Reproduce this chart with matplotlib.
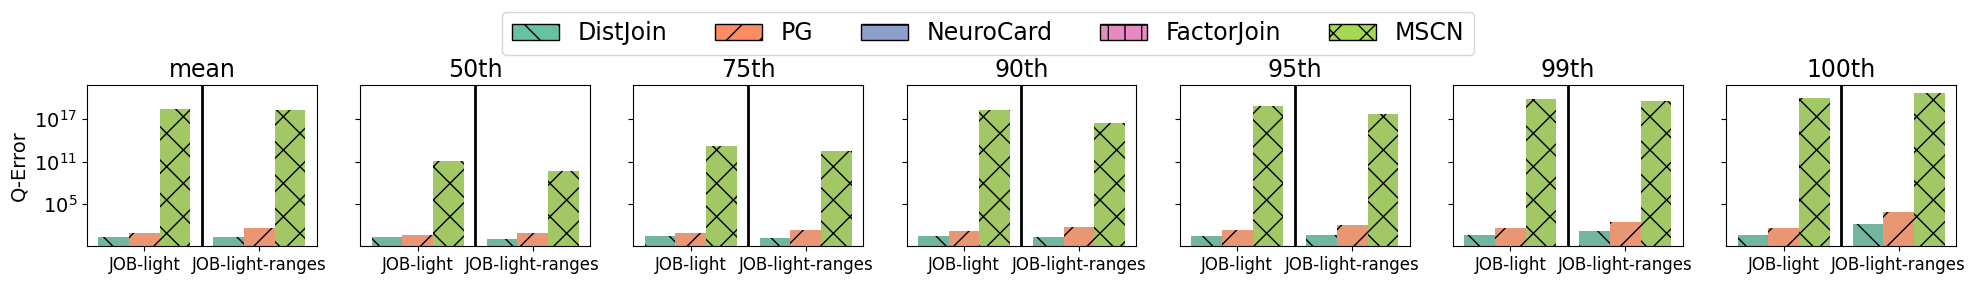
import numpy as np
import matplotlib
matplotlib.use("Agg")
import matplotlib.pyplot as plt
from matplotlib.patches import Patch
from matplotlib.ticker import NullLocator
import seaborn as sns

# ===== DATA =====
methods = ["DistJoin", "PG", "NeuroCard", "FactorJoin", "MSCN"]
hatches = ["\\", "/", "-", "+", "x"]
workloads = ["JOB-light", "JOB-light-ranges"]
stats = ["mean", "50th", "75th", "90th", "95th", "99th", "100th"]

# q-error per stat, [JOB-light, JOB-light-ranges]
distjoin = {
    "mean": [2.4, 2.4], "50th": [2.4, 1.3], "75th": [3.3, 1.7],
    "90th": [3.3, 2.4], "95th": [3.3, 4.6], "99th": [4.6, 17], "100th": [4.6, 166],
}
pg = {
    "mean": [8.9, 45], "50th": [4.6, 8.9], "75th": [8.9, 23],
    "90th": [17, 63], "95th": [23, 120], "99th": [45, 316], "100th": [45, 8100],
}
mscn = {
    "mean": [2.9e18, 2.1e18], "50th": [1.3e11, 5.0e9], "75th": [1.7e13, 3.4e12],
    "90th": [2.1e18, 3.0e16], "95th": [7.6e18, 5.6e17], "99th": [7.4e19, 3.8e19],
    "100th": [1.0e20, 5.2e20],
}

# ===== STYLE =====
palette = sns.color_palette("Set2", 5)
bar_colors = [sns.desaturate(c, 0.75) for c in palette]
plt.rcParams["hatch.color"] = "black"
plt.rcParams["hatch.linewidth"] = 1.0

fig, axes = plt.subplots(1, 7, figsize=(19.76, 2.84), dpi=100, sharey=True)
fig.subplots_adjust(left=0.044, right=0.9899, top=0.70, bottom=0.134, wspace=0.188)

x = np.arange(len(workloads))
w = 0.8 / 3
series = [(0, distjoin), (1, pg), (4, mscn)]

for ax, st in zip(axes, stats):
    for k, (mi, data) in enumerate(series):
        ax.bar(x + (k - 1) * w, data[st], width=w, color=bar_colors[mi],
               hatch=hatches[mi], edgecolor="black", linewidth=0)
    ax.axvline(0.5, color="black", linewidth=2)  # split between workloads
    ax.set_yscale("log")
    ax.set_ylim(10 ** -0.89, 10 ** 21.8)
    ax.set_xlim(-0.5, 1.5)
    ax.set_yticks([1e5, 1e11, 1e17])
    ax.yaxis.set_minor_locator(NullLocator())
    ax.set_xticks(x)
    ax.set_xticklabels(workloads, fontsize=12)
    ax.tick_params(axis="y", labelsize=14)
    ax.set_title(st, fontsize=17)

axes[0].set_ylabel("Q-Error", fontsize=14)

handles = [Patch(facecolor=palette[i], edgecolor="black", hatch=hatches[i], label=m)
           for i, m in enumerate(methods)]
fig.legend(handles=handles, loc="upper center", bbox_to_anchor=(0.5, 1.0),
           ncol=5, fontsize=17, frameon=True)

fig.savefig("out.png", dpi=100)
